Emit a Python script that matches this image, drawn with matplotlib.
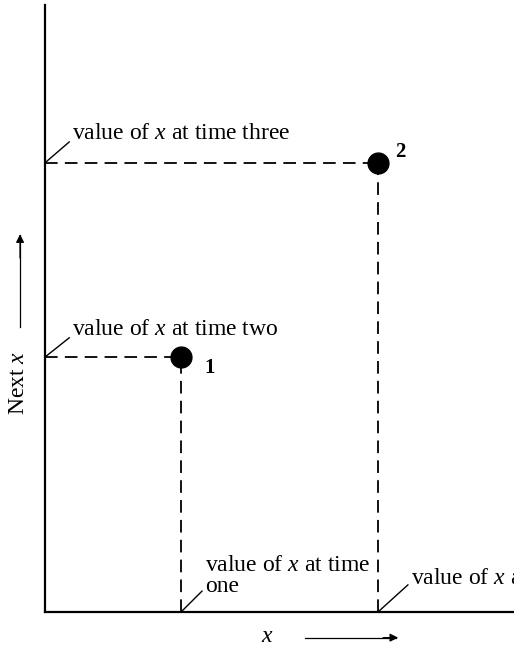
import matplotlib.pyplot as plt

plt.rcParams['font.family'] = 'Liberation Serif'
plt.rcParams['mathtext.fontset'] = 'custom'
plt.rcParams['mathtext.it'] = 'Liberation Serif:italic'
plt.rcParams['mathtext.rm'] = 'Liberation Serif'

# x values at time one / two, next-x values at time two / three
x_now = [2.9, 7.1]
x_next = [4.2, 7.4]
point_labels = ['1', '2']

fig = plt.figure(figsize=(5.14, 6.52), dpi=100)
ax = fig.add_axes([0.0875, 0.0613, 0.9125, 0.931])
ax.set_xlim(0, 10)
ax.set_ylim(0, 10)

for s in ['top', 'right']:
    ax.spines[s].set_visible(False)
for s in ['left', 'bottom']:
    ax.spines[s].set_linewidth(1.6)
ax.set_xticks([])
ax.set_yticks([])

dash = dict(color='black', lw=1.3, ls=(0, (7, 4)))
for xv, yv in zip(x_now, x_next):
    ax.plot([0, xv], [yv, yv], **dash)
    ax.plot([xv, xv], [0, yv], **dash)
ax.plot(x_now, x_next, 'o', color='black', ms=15, zorder=5)

ax.text(x_now[0] + 0.5, x_next[0] - 0.18, point_labels[0], fontsize=15,
        fontweight='bold', va='center')
ax.text(x_now[1] + 0.36, x_next[1] + 0.18, point_labels[1], fontsize=15,
        fontweight='bold', va='center')

fs = 17
line = dict(arrowstyle='-', color='black', lw=1.0, shrinkA=0, shrinkB=0)
ax.annotate('value of $x$ at time three', xy=(0, x_next[1]), xytext=(0.58, 7.89),
            fontsize=fs, va='center', arrowprops=dict(line, relpos=(0, 0.2)))
ax.annotate('value of $x$ at time two', xy=(0, x_next[0]), xytext=(0.58, 4.66),
            fontsize=fs, va='center', arrowprops=dict(line, relpos=(0, 0.2)))
ax.annotate('value of $x$ at time\none', xy=(x_now[0], 0), xytext=(3.41, 0.6),
            fontsize=fs, va='center', linespacing=1.0,
            arrowprops=dict(line, relpos=(0, 0.2)))
ax.annotate('value of $x$ at time four', xy=(x_now[1], 0), xytext=(7.8, 0.56),
            fontsize=fs, va='center', annotation_clip=False,
            arrowprops=dict(line, relpos=(0, 0.3)))

# axis labels with arrows
fig.text(0.036, 0.413, 'Next $x$', rotation=90, fontsize=fs, ha='center', va='center')
fig.add_artist(plt.Line2D([0.039, 0.039], [0.498, 0.64], color='black', lw=0.9))
ax.annotate('', xy=(0.039, 0.645), xytext=(0.039, 0.6), xycoords='figure fraction',
            arrowprops=dict(arrowstyle='-|>', color='black', lw=0.9, mutation_scale=12))
fig.text(0.521, 0.024, '$x$', fontsize=fs, ha='center', va='center')
fig.add_artist(plt.Line2D([0.593, 0.77], [0.022, 0.022], color='black', lw=0.9))
ax.annotate('', xy=(0.78, 0.022), xytext=(0.74, 0.022), xycoords='figure fraction',
            arrowprops=dict(arrowstyle='-|>', color='black', lw=0.9, mutation_scale=12))

fig.savefig('out.png', dpi=100)
